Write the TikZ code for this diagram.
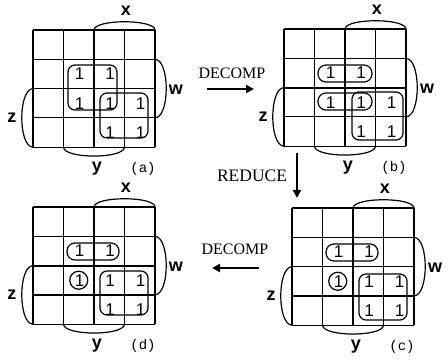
\documentclass[tikz,border=0pt]{standalone}
\usepackage{fontspec}
\setmainfont{Liberation Serif}
\newfontfamily\lsans{Liberation Sans}
\newfontfamily\lmono{Liberation Mono}
\usetikzlibrary{arrows.meta}
\tikzset{
  gridline/.style={line width=1.2pt},
  thickline/.style={line width=2pt},
  brk/.style={line width=1.2pt},
  grp/.style={line width=1.2pt, rounded corners=7pt},
  pill/.style={line width=1.2pt, rounded corners=8pt},
  one/.style={font=\lsans\fontsize{17}{17}\selectfont, inner sep=0pt},
  axlbl/.style={font=\lsans\bfseries\fontsize{18}{18}\selectfont, inner sep=0pt},
  maplbl/.style={font=\lmono\fontsize{14}{14}\selectfont, inner sep=0pt},
  oplbl/.style={font=\fontsize{16}{16}\selectfont, inner sep=0pt},
  bigarrow/.style={line width=2.6pt, -{Triangle[length=8pt,width=8pt]}},
}
\newcommand\kmap[5]{%
\begin{scope}[shift={(#2,#3)}]
 \foreach \i in {0,...,4}{\draw[gridline] (\i*30.5,0) -- (\i*30.5,117.2); \draw[gridline] (0,\i*29.3) -- (122,\i*29.3);}
 \draw[brk] (61,0) .. controls (61.5,-11) and (121.5,-11) .. (122,0);
 \node[axlbl] (#1-x) at (93,-19) {x};
 \draw[brk] (122,29.3) .. controls (137,30) and (137,87.2) .. (122,87.9);
 \node[axlbl] (#1-w) at (143,60) {w};
 \draw[brk] (0,58.6) .. controls (-15,59.3) and (-15,116.5) .. (0,117.2);
 \node[axlbl] (#1-z) at (-21,88) {z};
 \draw[brk] (30.5,117.2) .. controls (31,129) and (91,129) .. (91.5,117.2);
 \node[axlbl] (#1-y) at (64,139) {y};
 \node[maplbl] (#1-lbl) at (110,139) {(#4)};
 #5
\end{scope}}
\begin{document}
\begin{tikzpicture}[x=1pt,y=-1pt]
\useasboundingbox (0,0) rectangle (448,361);
% (a)
\kmap{ma}{33}{30}{a}{
  \node[one] (a22) at (46.5,43.95) {1};
  \node[one] (a23) at (77,43.95) {1};
  \node[one] (a32) at (46.5,73.25) {1};
  \node[one] (a33) at (77,73.25) {1};
  \node[one] (a34) at (107.5,73.25) {1};
  \node[one] (a43) at (77,102.55) {1};
  \node[one] (a44) at (107.5,102.55) {1};
  \draw[grp] (35,35) rectangle (84,80);
  \draw[grp] (67,63) rectangle (115,108);
}
% (b)
\kmap{mb}{284}{29}{b}{
  \draw[thickline] (0,58.6) -- (122,58.6);
  \node[one] (b22) at (46.5,43.95) {1};
  \node[one] (b23) at (77,43.95) {1};
  \node[one] (b32) at (46.5,73.25) {1};
  \node[one] (b33) at (77,73.25) {1};
  \node[one] (b34) at (107.5,73.25) {1};
  \node[one] (b43) at (77,102.55) {1};
  \node[one] (b44) at (107.5,102.55) {1};
  \draw[pill] (34,36) rectangle (88,53);
  \draw[pill] (34,64) rectangle (88,81);
  \draw[grp] (68,63) rectangle (119,111);
}
% (c)
\kmap{mc}{292}{208}{c}{
  \node[one] (c22) at (46.5,43.95) {1};
  \node[one] (c23) at (77,43.95) {1};
  \node[one] (c32) at (46.5,73.25) {1};
  \node[one] (c33) at (77,73.25) {1};
  \node[one] (c34) at (107.5,73.25) {1};
  \node[one] (c43) at (77,102.55) {1};
  \node[one] (c44) at (107.5,102.55) {1};
  \draw[pill] (34,36) rectangle (86,53);
  \draw[brk] (45.75,73.25) circle (9);
  \draw[grp] (67,66) rectangle (115,112);
}
% (d)
\kmap{md}{33}{207}{d}{
  \draw[thickline] (0,58.6) -- (122,58.6);
  \draw[thickline] (61,0) -- (61,117.2);
  \node[one] (d22) at (46.5,43.95) {1};
  \node[one] (d23) at (77,43.95) {1};
  \node[one] (d32) at (46.5,73.25) {1};
  \node[one] (d33) at (77,73.25) {1};
  \node[one] (d34) at (107.5,73.25) {1};
  \node[one] (d43) at (77,102.55) {1};
  \node[one] (d44) at (107.5,102.55) {1};
  \draw[pill] (34,36) rectangle (86,53);
  \draw[brk] (45.75,73.25) circle (9);
  \draw[grp] (67,64) rectangle (115,108);
}
% operations
\node[oplbl] (dec1) at (232,73) {DECOMP};
\coordinate (d1s) at (207,89);
\coordinate (d1e) at (254,89);
\draw[bigarrow] (d1s) -- (d1e);
\node[oplbl, font=\fontsize{17.5}{17.5}\selectfont] (red) at (252,176) {REDUCE};
\coordinate (rs) at (297,153);
\coordinate (re) at (297,198);
\draw[bigarrow] (rs) -- (re);
\node[oplbl] (dec2) at (235,249) {DECOMP};
\coordinate (d2s) at (259,268);
\coordinate (d2e) at (212,268);
\draw[bigarrow] (d2s) -- (d2e);
\end{tikzpicture}
\end{document}
